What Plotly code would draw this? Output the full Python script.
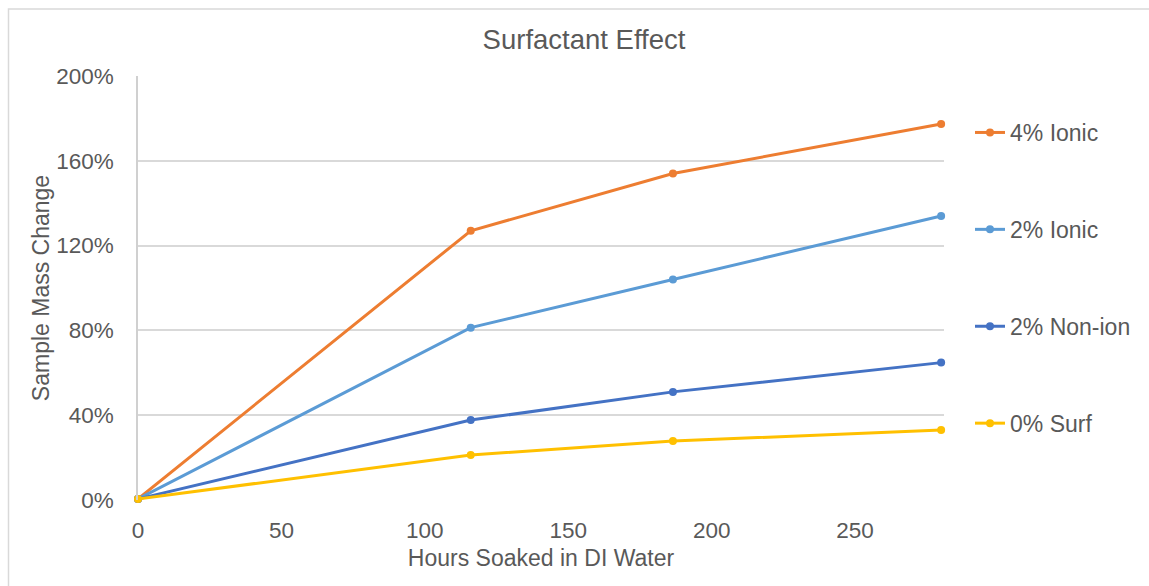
import plotly.graph_objects as go

# Soak times (hours) and fractional mass change for each surfactant mix
hours = [0, 116, 186.5, 280]
series_names = ["4% Ionic", "2% Ionic", "2% Non-ion", "0% Surf"]
ionic_4 = [0.005, 1.27, 1.54, 1.774]
ionic_2 = [0.005, 0.813, 1.04, 1.34]
nonion_2 = [0.005, 0.377, 0.51, 0.648]
surf_0 = [0.005, 0.212, 0.278, 0.33]
colors = ["#ED7D31", "#5B9BD5", "#4472C4", "#FFC000"]

x_ticks = [0, 50, 100, 150, 200, 250]
y_ticks = [0, 0.4, 0.8, 1.2, 1.6, 2.0]

W, H = 1149, 586
L, R, T, B = 138, 205, 76, 86
pw, ph = W - L - R, H - T - B

text_color = "#595959"
font_family = "Liberation Sans, Arial, sans-serif"

fig = go.Figure()
for i, (name, vals) in enumerate(zip(series_names, [ionic_4, ionic_2, nonion_2, surf_0])):
    fig.add_trace(go.Scatter(
        x=hours, y=vals, name=name, mode="lines+markers",
        line=dict(color=colors[i], width=3),
        marker=dict(color=colors[i], size=8),
        legendgroup=name,
        cliponaxis=False,
    ))

fig.update_layout(
    width=W, height=H,
    margin=dict(l=L, r=R, t=T, b=B),
    paper_bgcolor="white", plot_bgcolor="white",
    font=dict(family=font_family, color=text_color, size=22),
    title=dict(text="Surfactant Effect", x=584 / W, xanchor="center",
               y=1 - 39 / H, yanchor="middle",
               font=dict(size=27.5, color=text_color)),
    xaxis=dict(
        range=[0, 281], tickvals=x_ticks, showgrid=False, zeroline=False,
        showline=False, ticks="", tickfont=dict(size=22.5, color=text_color),
        ticklabelstandoff=14,
        title=dict(text="Hours Soaked in DI Water", font=dict(size=23, color=text_color),
                   standoff=8),
    ),
    yaxis=dict(
        range=[0, 2.0], tickvals=y_ticks, tickformat=".0%", showgrid=True,
        gridcolor="#D9D9D9", gridwidth=1.5, zeroline=False,
        showline=True, linecolor="#D0D0D0", linewidth=1.5, ticks="",
        tickfont=dict(size=22.5, color=text_color), ticklabelstandoff=18,
        title=dict(text="Sample Mass Change", font=dict(size=23, color=text_color),
                   standoff=0),
    ),
    legend=dict(
        x=(970 - L) / pw, xanchor="left", y=(500 - 111) / ph, yanchor="top",
        font=dict(size=23, color=text_color), tracegroupgap=64,
        itemwidth=30, bgcolor="rgba(0,0,0,0)",
    ),
    showlegend=True,
    shapes=[dict(
        type="rect", xref="paper", yref="paper",
        x0=(8.5 - L) / pw, x1=(W + 20 - L) / pw,
        y0=-(B + 20) / ph, y1=(500 - 9) / ph,
        line=dict(color="#D9D9D9", width=1.5), fillcolor="rgba(0,0,0,0)",
        layer="below",
    )],
)

fig.write_html("out.html")
